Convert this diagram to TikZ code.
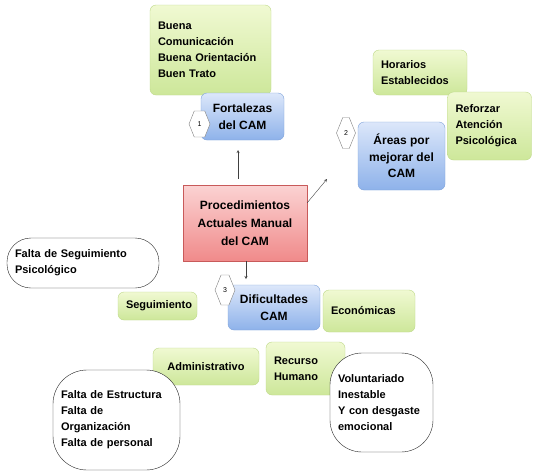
\documentclass[tikz,border=0pt]{standalone}
\usepackage{fontspec}
\setmainfont{Liberation Sans}
\usetikzlibrary{shapes.symbols}
\definecolor{verdesup}{HTML}{F0F9D2}
\definecolor{verdeinf}{HTML}{CDE79A}
\definecolor{verdelin}{HTML}{BFD98A}
\definecolor{azulsup}{HTML}{DCE7FA}
\definecolor{azulinf}{HTML}{8EB2EA}
\definecolor{azullin}{HTML}{7FA3DA}
\definecolor{rosasup}{HTML}{FBD3D3}
\definecolor{rosainf}{HTML}{F08A8A}
\definecolor{rosalin}{HTML}{C85A5A}
\begin{document}
\begin{tikzpicture}[x=1pt,y=-1pt,font=\fontsize{11}{16}\selectfont\bfseries,line join=round,>=stealth,
	verde/.style={draw=verdelin,top color=verdesup,bottom color=verdeinf,rounded corners=6pt,inner xsep=8pt,inner ysep=0pt,align=left},
	azul/.style={draw=azullin,top color=azulsup,bottom color=azulinf,rounded corners=6pt,inner sep=0pt,align=center,font=\fontsize{12}{16.5}\selectfont\bfseries},
	nube/.style={draw=black!85,fill=white,inner xsep=8pt,inner ysep=0pt,align=left},
	hexa/.style={signal,signal to=east and west,signal pointer angle=136,draw=black!50,fill=white,inner sep=0pt,font=\fontsize{7}{8}\selectfont\mdseries},
	flecha/.style={->,black!75,thin}]
	\useasboundingbox[fill=white] (0,0) rectangle (533,472);
	
	\node[verde,text width=105pt,minimum height=90pt] (buena) at (210.5,50) {Buena\\Comunicación\\Buena Orientación\\Buen Trato};
	\node[azul,minimum width=83pt,minimum height=47pt] (fort) at (242.5,116.5) {Fortalezas\\del CAM};
	\node[hexa,minimum width=21pt,minimum height=26pt] (h1) at (199.5,124) {1};
	
	\node[draw=rosalin,top color=rosasup,bottom color=rosainf,minimum width=124pt,minimum height=76pt,inner sep=0pt,align=center,font=\fontsize{12}{18}\selectfont\bfseries] (central) at (245,223) {Procedimientos\\Actuales Manual\\del CAM};
	
	\node[verde,text width=78pt,minimum height=45pt] (horarios) at (420,72.5) {Horarios\\Establecidos};
	\node[verde,text width=68pt,minimum height=68pt] (reforzar) at (489.5,126) {Reforzar\\Atención\\Psicológica};
	\node[azul,minimum width=87pt,minimum height=68pt] (areas) at (401.5,156) {Áreas por\\mejorar del\\CAM};
	\node[hexa,minimum width=19pt,minimum height=31pt] (h2) at (346,133) {2};
	
	\node[nube,rounded corners=24pt,text width=136pt,minimum height=50pt] (faltaseg) at (83,263) {Falta de Seguimiento\\Psicológico};
	\node[verde,text width=63pt,minimum height=28pt,align=center] (seguim) at (157.5,306) {Seguimiento};
	\node[azul,minimum width=92pt,minimum height=45pt] (dific) at (274,307.5) {Dificultades\\CAM};
	\node[hexa,minimum width=20pt,minimum height=30pt] (h3) at (225,290) {3};
	\node[verde,text width=76pt,minimum height=42pt] (econ) at (369,311) {Económicas};
	\node[verde,text width=90pt,minimum height=37pt,align=center] (admin) at (206,366.5) {Administrativo};
	\node[verde,text width=63pt,minimum height=53pt] (recurso) at (305.5,368.5) {Recurso\\Humano};
	\node[nube,rounded corners=32pt,text width=87pt,minimum height=99pt] (volunt) at (381.5,402.5) {Voluntariado\\Inestable\\Y con desgaste\\emocional};
	\node[nube,rounded corners=34pt,text width=111pt,minimum height=100pt] (faltaest) at (116.5,420) {Falta de Estructura\\Falta de\\Organización\\Falta de personal};
	
	\coordinate (fin1) at (238,150);
	\coordinate (fin2) at (327,179);
	\coordinate (fin3) at (246,279);
	\draw[flecha,shorten <=6pt] (central.north -| fin1) -- (fin1);
	\draw[flecha] (central.18) -- (fin2);
	\draw[flecha] (central.south -| fin3) -- (fin3);
\end{tikzpicture}
\end{document}
